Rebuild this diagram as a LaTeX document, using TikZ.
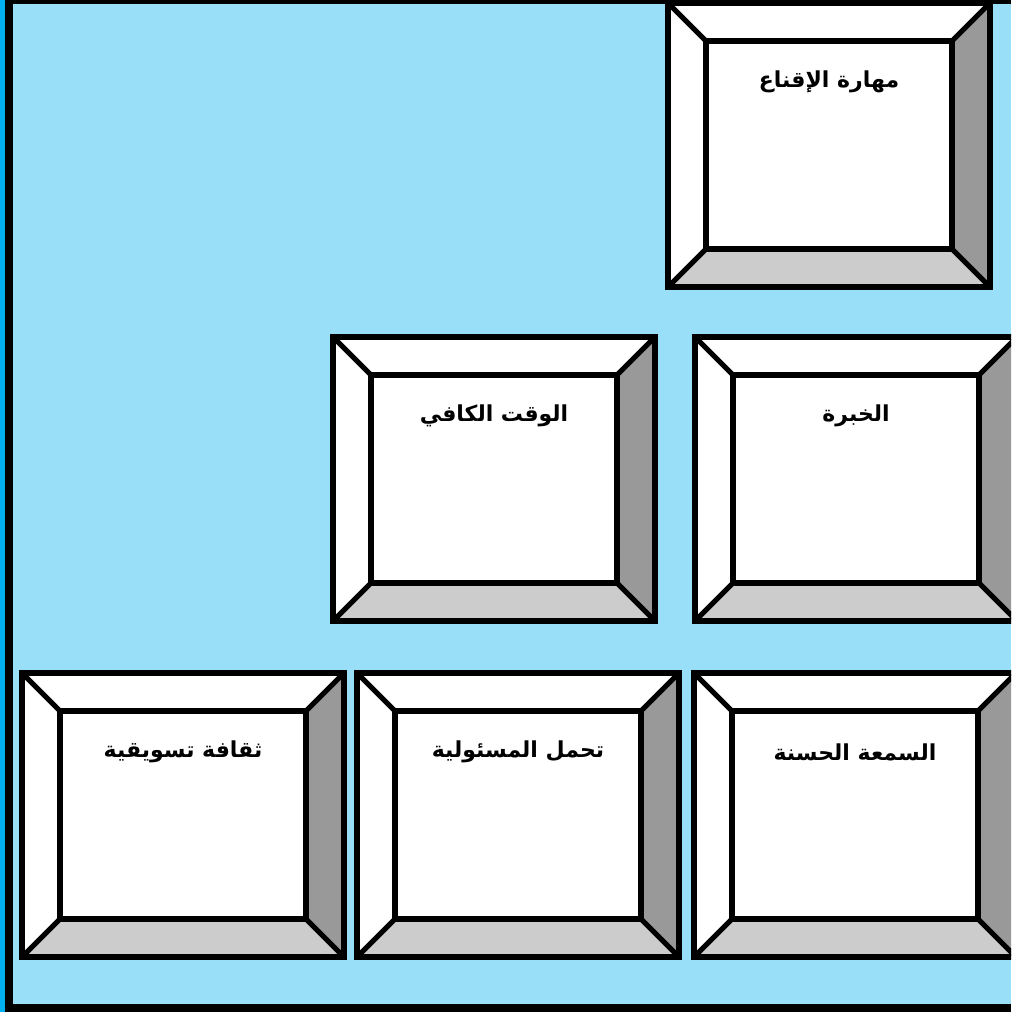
\documentclass[tikz,border=0pt]{standalone}
\usepackage{fontspec}
\newfontfamily\arabicfont[Script=Arabic]{DejaVu Sans}
\TeXXeTstate=1

\definecolor{skyFill}{HTML}{99DFF8}
\definecolor{edgeBlue}{HTML}{00B0F0}
\definecolor{sideGray}{HTML}{999999}
\definecolor{baseGray}{HTML}{CCCCCC}

\newcommand{\boxW}{322}
\newcommand{\boxH}{284}
\newcommand{\bevel}{38}
\newcommand{\labelDrop}{41}

\tikzset{
  frameLine/.style={line width=3.8pt, black, line join=miter},
  boxLabel/.style={font=\arabicfont\bfseries\fontsize{16.5}{20}\selectfont, inner sep=0pt},
}

% bevelled box: #1 name, #2 left, #3 top, #4 label
\newcommand{\bevelBox}[4]{
  \coordinate (#1-nw) at (#2,#3);
  \coordinate (#1-ne) at (#2+\boxW,#3);
  \coordinate (#1-se) at (#2+\boxW,#3+\boxH);
  \coordinate (#1-sw) at (#2,#3+\boxH);
  \coordinate (#1-inw) at (#2+\bevel,#3+\bevel);
  \coordinate (#1-ine) at (#2+\boxW-\bevel,#3+\bevel);
  \coordinate (#1-ise) at (#2+\boxW-\bevel,#3+\boxH-\bevel);
  \coordinate (#1-isw) at (#2+\bevel,#3+\boxH-\bevel);
  \fill[white] (#1-nw) rectangle (#1-se);
  \fill[sideGray] (#1-ne) -- (#1-se) -- (#1-ise) -- (#1-ine) -- cycle;
  \fill[baseGray] (#1-sw) -- (#1-se) -- (#1-ise) -- (#1-isw) -- cycle;
  \draw[frameLine] (#1-nw) rectangle (#1-se);
  \draw[frameLine] (#1-inw) rectangle (#1-ise);
  \draw[frameLine] (#1-nw) -- (#1-inw) (#1-ne) -- (#1-ine)
    (#1-se) -- (#1-ise) (#1-sw) -- (#1-isw);
  \node[boxLabel] (#1-label) at (#2+\boxW/2,#3+\bevel+\labelDrop) {#4};
}

\begin{document}
\begin{tikzpicture}[x=0.75pt, y=-0.75pt]
  \useasboundingbox (0,0) rectangle (1011,1012);
  \clip (0,0) rectangle (1011,1012);

  % Background and frame
  \fill[skyFill] (0,0) rectangle (1011,1012);
  \fill[edgeBlue] (0,0) rectangle (5,1012);
  \fill[black] (5,0) rectangle (13,1012);
  \fill[black] (5,0) rectangle (1011,4);
  \fill[black] (5,1004) rectangle (1011,1012);

  % Top row
  \bevelBox{persuasion}{668}{3}{\beginR مهارة الإقناع\endR}

  % Middle row
  \bevelBox{time}{333}{337}{\beginR الوقت الكافي\endR}
  \bevelBox{experience}{695}{337}{\beginR الخبرة\endR}

  % Bottom row
  \bevelBox{marketing}{22}{673}{\beginR ثقافة تسويقية\endR}
  \bevelBox{responsibility}{357}{673}{\beginR تحمل المسئولية\endR}
  \bevelBox{reputation}{694}{673}{\beginR السمعة الحسنة\endR}
\end{tikzpicture}
\end{document}
